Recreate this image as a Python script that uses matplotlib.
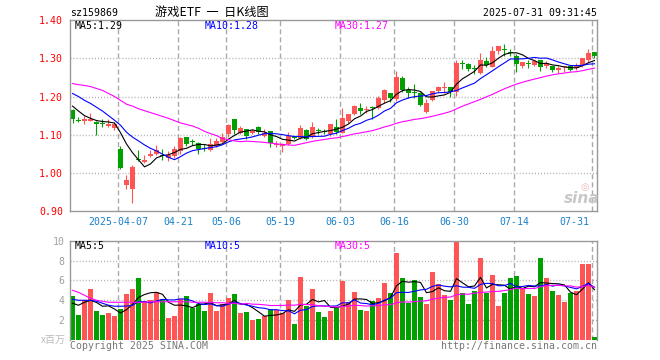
import numpy as np
import pandas as pd
import matplotlib
matplotlib.use('Agg')
import matplotlib.pyplot as plt

# daily K-line data, 2025-03-25 .. 2025-07-31 (88 trading days)
opens = [1.164, 1.136, 1.137, 1.136, 1.133, 1.130, 1.123, 1.117, 1.064, 0.969,
         0.959, 1.036, 1.028, 1.044, 1.051, 1.047, 1.040, 1.044, 1.057, 1.095,
         1.081, 1.079, 1.064, 1.060, 1.070, 1.082, 1.101, 1.140, 1.105, 1.116,
         1.104, 1.121, 1.098, 1.110, 1.072, 1.070, 1.075, 1.096, 1.092, 1.112,
         1.095, 1.112, 1.110, 1.101, 1.121, 1.105, 1.136, 1.154, 1.169, 1.166,
         1.171, 1.169, 1.191, 1.209, 1.193, 1.248, 1.217, 1.211, 1.209, 1.160,
         1.191, 1.215, 1.221, 1.226, 1.212, 1.286, 1.285, 1.273, 1.261, 1.292,
         1.276, 1.318, 1.323, 1.316, 1.307, 1.279, 1.286, 1.283, 1.296, 1.279,
         1.281, 1.270, 1.276, 1.281, 1.274, 1.282, 1.296, 1.316]
closes = [1.142, 1.135, 1.140, 1.140, 1.129, 1.129, 1.129, 1.127, 1.013, 0.982,
          1.016, 1.035, 1.035, 1.051, 1.061, 1.045, 1.048, 1.063, 1.092, 1.075,
          1.080, 1.063, 1.063, 1.075, 1.085, 1.095, 1.125, 1.112, 1.118, 1.098,
          1.111, 1.107, 1.104, 1.079, 1.076, 1.075, 1.096, 1.092, 1.117, 1.088,
          1.121, 1.111, 1.108, 1.127, 1.107, 1.145, 1.154, 1.176, 1.162, 1.168,
          1.170, 1.196, 1.217, 1.195, 1.252, 1.218, 1.209, 1.210, 1.177, 1.182,
          1.215, 1.225, 1.222, 1.212, 1.288, 1.285, 1.272, 1.272, 1.296, 1.283,
          1.318, 1.332, 1.322, 1.315, 1.285, 1.291, 1.285, 1.294, 1.276, 1.288,
          1.270, 1.275, 1.276, 1.270, 1.282, 1.300, 1.314, 1.305]
highs = [1.168, 1.147, 1.149, 1.156, 1.135, 1.140, 1.142, 1.133, 1.070, 0.996,
         1.022, 1.059, 1.046, 1.060, 1.072, 1.063, 1.058, 1.070, 1.093, 1.095,
         1.088, 1.081, 1.075, 1.092, 1.092, 1.105, 1.127, 1.140, 1.123, 1.116,
         1.114, 1.123, 1.116, 1.110, 1.083, 1.079, 1.107, 1.098, 1.125, 1.114,
         1.133, 1.118, 1.114, 1.127, 1.142, 1.171, 1.154, 1.177, 1.182, 1.174,
         1.175, 1.202, 1.219, 1.209, 1.266, 1.253, 1.226, 1.232, 1.212, 1.193,
         1.215, 1.228, 1.237, 1.226, 1.296, 1.296, 1.288, 1.282, 1.314, 1.303,
         1.333, 1.332, 1.338, 1.323, 1.311, 1.291, 1.296, 1.296, 1.296, 1.294,
         1.281, 1.279, 1.281, 1.282, 1.288, 1.300, 1.325, 1.316]
lows = [1.132, 1.133, 1.127, 1.136, 1.100, 1.121, 1.121, 1.112, 1.010, 0.958,
        0.923, 1.031, 1.026, 1.042, 1.048, 1.035, 1.032, 1.040, 1.051, 1.070,
        1.073, 1.051, 1.057, 1.057, 1.068, 1.079, 1.095, 1.101, 1.101, 1.090,
        1.101, 1.101, 1.095, 1.068, 1.068, 1.054, 1.072, 1.088, 1.088, 1.086,
        1.092, 1.103, 1.101, 1.098, 1.101, 1.104, 1.132, 1.151, 1.154, 1.156,
        1.140, 1.167, 1.184, 1.186, 1.189, 1.212, 1.195, 1.197, 1.175, 1.158,
        1.189, 1.211, 1.208, 1.200, 1.202, 1.272, 1.268, 1.259, 1.259, 1.276,
        1.276, 1.311, 1.305, 1.307, 1.263, 1.274, 1.274, 1.281, 1.268, 1.274,
        1.263, 1.261, 1.263, 1.268, 1.270, 1.276, 1.291, 1.301]
# volume in millions
volumes = [4.4, 2.5, 4.0, 5.1, 2.9, 2.5, 2.7, 2.4, 3.1, 4.6,
           5.1, 6.2, 3.9, 4.0, 4.8, 4.1, 2.2, 2.4, 4.1, 4.4,
           3.2, 3.6, 2.9, 4.7, 2.9, 3.6, 4.2, 4.6, 2.7, 2.8,
           2.0, 2.1, 2.4, 3.1, 3.0, 2.7, 4.0, 1.6, 6.3, 3.4,
           5.1, 2.8, 2.3, 2.9, 3.2, 5.9, 3.8, 4.8, 3.0, 2.9,
           3.9, 4.2, 5.7, 4.7, 8.8, 6.2, 3.7, 6.0, 4.3, 3.6,
           6.8, 5.6, 4.5, 4.0, 10.0, 4.7, 3.6, 4.9, 8.3, 4.7,
           6.5, 3.4, 4.7, 6.2, 6.4, 5.2, 4.6, 4.4, 8.3, 6.2,
           4.9, 4.5, 3.8, 4.7, 4.9, 7.7, 7.7, 0.3]

# moving-average values at the start of the window (need earlier days)
ma5_head = [1.175, 1.162, 1.150, 1.143]
ma10_head = [1.208, 1.200, 1.190, 1.182, 1.172, 1.162, 1.150, 1.138, 1.125]
ma30_head = [1.234, 1.231, 1.229, 1.226, 1.221, 1.216, 1.208, 1.200, 1.190, 1.180,
             1.175, 1.168, 1.163, 1.158, 1.153, 1.148, 1.143, 1.137, 1.131, 1.127,
             1.123, 1.117, 1.109, 1.103, 1.098, 1.090, 1.087, 1.084, 1.082]
vma5_head = [3.7, 3.5, 3.8, 4.0]
vma10_head = [4.1, 4.0, 4.0, 4.0, 3.9, 3.7, 3.5, 3.4, 3.4]
vma30_head = [5.0, 4.8, 4.5, 4.2, 4.0, 3.9, 3.8, 3.8, 3.8, 3.8,
              3.8, 3.8, 3.8, 3.85, 3.85, 3.85, 3.85, 3.85, 3.85, 3.85,
              3.8, 3.8, 3.8, 3.8, 3.75, 3.75, 3.7, 3.7, 3.6]

date_idx = [8, 18, 26, 35, 45, 54, 64, 74, 87]
date_labels = ['2025-04-07', '04-21', '05-06', '05-19', '06-03', '06-16', '06-30', '07-14', '07-31']
price_ticks = [0.90, 1.00, 1.10, 1.20, 1.30, 1.40]
vol_ticks = [2, 4, 6, 8, 10]
ma_legend = ['MA5:1.29', 'MA10:1.28', 'MA30:1.27']
vma_legend = ['MA5:5', 'MA10:5', 'MA30:5']

RED = '#ff5555'
GREEN = '#00a000'
GRID = '#aaaaaa'
MONO = 'DejaVu Sans Mono'
CJK = ['Noto Sans CJK SC', 'DejaVu Sans']
W, H = 660, 360


def moving_avg(values, n, head):
    s = pd.Series(values).rolling(n).mean().to_numpy()
    s[:len(head)] = head
    return s


ma5 = moving_avg(closes, 5, ma5_head)
ma10 = moving_avg(closes, 10, ma10_head)
ma30 = moving_avg(closes, 30, ma30_head)
vma5 = moving_avg(volumes, 5, vma5_head)
vma10 = moving_avg(volumes, 10, vma10_head)
vma30 = moving_avg(volumes, 30, vma30_head)

o = np.array(opens)
c = np.array(closes)
x = np.arange(len(c))
colors = [RED if cc >= oo else GREEN for oo, cc in zip(o, c)]

fig = plt.figure(figsize=(6.6, 3.6), dpi=100)
ax = fig.add_axes([70 / W, 1 - 211.3 / H, 527 / W, 191.3 / H])
vax = fig.add_axes([70 / W, 20 / H, 527 / W, 99.3 / H])

xlo, xhi = -0.4167, 87.42
for a in (ax, vax):
    a.set_xlim(xlo, xhi)
    a.set_xticks([])
    for sp in a.spines.values():
        sp.set_color('#999999')
        sp.set_linewidth(1.0)
    for i in date_idx:
        a.axvline(i - 0.4167, color=GRID, lw=1, ls=(0, (3.6, 2.2)), zorder=0)

# price panel
for y in price_ticks[1:-1]:
    ax.axhline(y, color=GRID, lw=1, ls=(0, (0.7, 1.5)), zorder=0)
ax.vlines(x, lows, highs, colors=colors, lw=0.8, zorder=2)
ax.bar(x, np.maximum(np.abs(c - o), 0.0026), 0.83, bottom=np.minimum(o, c),
       color=colors, linewidth=0, zorder=2)
ax.plot(x, ma5, color='black', lw=0.8, zorder=3)
ax.plot(x, ma10, color='#0000ff', lw=0.8, zorder=3)
ax.plot(x, ma30, color='#ff00ff', lw=0.8, zorder=3)
ax.set_ylim(0.90, 1.40)
ax.set_yticks(price_ticks)
ax.set_yticklabels([f'{v:.2f}' for v in price_ticks], color='red', family=MONO, fontsize=7.1)
ax.tick_params(axis='y', length=0, pad=5)

for i, lbl in zip(date_idx, date_labels):
    last = i == date_idx[-1]
    ax.annotate(lbl, (i - 0.4167, 0), xycoords=('data', 'axes fraction'),
                xytext=(-2 if last else 0, -7.5), textcoords='offset points',
                ha='right' if last else 'center', va='center',
                color='#1a80c8', family=MONO, fontsize=7.1)

# volume panel
for y in vol_ticks[:-1]:
    vax.axhline(y, color=GRID, lw=1, ls=(0, (0.7, 1.5)), zorder=0)
vax.bar(x, volumes, 0.83, color=colors, linewidth=0, zorder=2)
vax.plot(x, vma5, color='black', lw=0.8, zorder=3)
vax.plot(x, vma10, color='#0000ff', lw=0.8, zorder=3)
vax.plot(x, vma30, color='#ff00ff', lw=0.8, zorder=3)
vax.set_ylim(0, 10)
vax.set_yticks(vol_ticks)
vax.set_yticklabels([str(v) for v in vol_ticks], color='#a0a0a0', family=MONO, fontsize=7.1)
vax.tick_params(axis='y', length=0, pad=4)
vax.spines['bottom'].set_visible(False)

# texts
fig.text(70 / W, 1 - 13 / H, 'sz159869', family=MONO, fontsize=7.1, va='center')
fig.text(212 / W, 1 - 12.5 / H, '游戏ETF  一  日K线图', family=CJK, fontsize=8.8,
         ha='center', va='center')
fig.text(597 / W, 1 - 13 / H, '2025-07-31 09:31:45', family=MONO, fontsize=7.1,
         ha='right', va='center')

ma_colors = ['black', '#0000ff', '#ff00ff']
for px, t, col in zip([75, 204.5, 335], ma_legend, ma_colors):
    fig.text(px / W, 1 - 26 / H, t, color=col, family=MONO, fontsize=7.1, va='center')
for px, t, col in zip([75, 204.5, 335], vma_legend, ma_colors):
    fig.text(px / W, 1 - 246 / H, t, color=col, family=MONO, fontsize=7.1, va='center')

fig.text(66 / W, 1 - 340 / H, 'x百万', color='#bbbbbb', family=CJK, fontsize=7.2,
         ha='right', va='center')
fig.text(70 / W, 1 - 346 / H, 'Copyright 2025 SINA.COM', color='#777777', family=MONO,
         fontsize=7.1, va='center')
fig.text(597 / W, 1 - 346 / H, 'http://finance.sina.com.cn', color='#777777', family=MONO,
         fontsize=7.1, ha='right', va='center')

# sina watermark
fig.text(582 / W, 1 - 198 / H, 'sina', color='#c8c8c8', fontsize=11, style='italic',
         weight='bold', ha='center', va='center')
fig.text(585 / W, 1 - 187 / H, '◎', color='#f0b8b8', fontsize=7, ha='center', va='center')

fig.savefig('out.png', dpi=100)
